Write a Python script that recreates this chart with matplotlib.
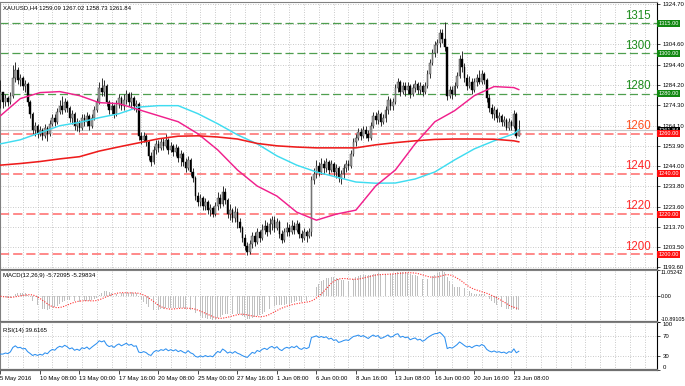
import numpy as np
import matplotlib
matplotlib.use('Agg')
import matplotlib.pyplot as plt
from matplotlib import transforms

plt.rcParams['font.family'] = ['Liberation Sans', 'DejaVu Sans']

# ---------------- data ----------------
symbol_title = "XAUUSD,H4 1259.09 1267.02 1258.73 1261.84"
macd_title = "MACD(12,26,9) -5.72095 -5.29834"
rsi_title = "RSI(14) 39.6165"
bid_price = 1261.84

first_open = 1277.0
close = [1281, 1276, 1278, 1276, 1279, 1288, 1292, 1287, 1288, 1284,
         1285, 1276, 1270, 1262, 1264, 1260, 1262, 1259, 1263, 1260,
         1265, 1268, 1266, 1271, 1274, 1272, 1276, 1273, 1268, 1270,
         1264, 1266, 1263, 1268, 1266, 1269, 1264, 1268, 1272, 1276,
         1283, 1281, 1284, 1276, 1272, 1274, 1270, 1275, 1278, 1274,
         1277, 1280, 1276, 1278, 1274, 1275, 1259, 1257, 1259, 1256,
         1249, 1246, 1252, 1255, 1253, 1256, 1254, 1257, 1252, 1254,
         1251, 1253, 1248, 1250, 1246, 1243, 1247, 1241, 1238, 1229,
         1226, 1228, 1224, 1226, 1222, 1223, 1220, 1224, 1228, 1225,
         1231, 1227, 1220, 1222, 1218, 1221, 1216, 1213, 1208, 1204,
         1201, 1205, 1209, 1206, 1211, 1208, 1212, 1214, 1211, 1215,
         1217, 1213, 1216, 1210, 1207, 1211, 1213, 1211, 1214, 1212,
         1215, 1210, 1208, 1211, 1209, 1211, 1237, 1240, 1244, 1241,
         1245, 1243, 1246, 1242, 1245, 1241, 1243, 1238, 1240, 1243,
         1245, 1244, 1250, 1256, 1258, 1261, 1259, 1262, 1260, 1258,
         1264, 1269, 1267, 1270, 1266, 1268, 1272, 1277, 1274, 1276,
         1283, 1286, 1281, 1284, 1282, 1284, 1280, 1283, 1285, 1282,
         1284, 1281, 1284, 1290, 1295, 1300, 1304, 1305, 1310, 1307,
         1303, 1279, 1282, 1280, 1284, 1289, 1297, 1293, 1288, 1284,
         1286, 1282, 1286, 1288, 1286, 1290, 1287, 1278, 1273, 1270,
         1272, 1268, 1269, 1266, 1267, 1263, 1266, 1264, 1270, 1259.09,
         1261.84]
high = [1287, 1281, 1280, 1279, 1281, 1294, 1295.5, 1293, 1290, 1289,
        1287, 1286, 1277, 1271, 1266, 1265, 1264, 1263, 1265, 1264,
        1267, 1270, 1270, 1273, 1277, 1279, 1278, 1277, 1274, 1272,
        1271, 1268, 1267, 1270, 1270, 1271, 1270, 1270, 1274, 1278,
        1286, 1288, 1287, 1285, 1277, 1276, 1275, 1277, 1280, 1279,
        1280, 1282, 1281, 1281, 1279, 1277, 1276, 1261, 1261, 1260,
        1257, 1251, 1254, 1257, 1257, 1258, 1258, 1260, 1258, 1256,
        1255, 1255, 1254, 1252, 1251, 1248, 1249, 1248, 1243, 1239,
        1231, 1230, 1229, 1228, 1227, 1225, 1224, 1226, 1231, 1230,
        1234, 1233, 1228, 1225, 1223, 1224, 1223, 1218, 1214, 1210,
        1206, 1207, 1211, 1211, 1213, 1212, 1215, 1217, 1216, 1218,
        1219, 1219, 1218, 1217, 1212, 1213, 1216, 1215, 1217, 1216,
        1217, 1216, 1212, 1213, 1212, 1213, 1239, 1243, 1247, 1246,
        1248, 1247, 1248, 1247, 1247, 1246, 1245, 1244, 1242, 1245,
        1247, 1247, 1252, 1258, 1260, 1263, 1263, 1264, 1264, 1262,
        1266, 1271, 1271, 1272, 1271, 1270, 1274, 1279, 1278, 1278,
        1285, 1288, 1287, 1286, 1286, 1286, 1285, 1285, 1287, 1286,
        1286, 1285, 1286, 1292, 1297, 1302, 1306, 1307, 1312, 1312,
        1315.5, 1303, 1284, 1284, 1286, 1291, 1299, 1301, 1295, 1290,
        1289, 1288, 1288, 1290, 1292, 1292, 1291, 1288, 1280, 1275,
        1274, 1273, 1271, 1270, 1269, 1268, 1268, 1267, 1272, 1271,
        1267.02]
low = [1273, 1273, 1274, 1274, 1275, 1278, 1286, 1285, 1284, 1282,
       1281, 1274, 1268, 1260, 1259, 1258, 1259, 1257, 1258, 1256.5,
       1259, 1264, 1264, 1265, 1270, 1270, 1271, 1271, 1266, 1265,
       1262, 1261.5, 1261, 1262, 1264, 1264, 1262, 1263, 1267, 1271,
       1275, 1279, 1279, 1274, 1270, 1270, 1268, 1269, 1273, 1272,
       1272, 1275, 1274, 1273, 1272, 1271, 1257, 1255, 1256, 1254,
       1247, 1244, 1245, 1250, 1251, 1252, 1252, 1253, 1250, 1251,
       1249, 1249, 1246, 1244, 1244, 1241, 1242, 1239, 1236, 1227,
       1224, 1224, 1222, 1222, 1220, 1219, 1218.5, 1219, 1222, 1223,
       1224, 1225, 1218, 1217, 1216, 1216, 1213, 1211, 1206, 1202,
       1199.6, 1200, 1203, 1204, 1205, 1206, 1207, 1210, 1209, 1210,
       1212, 1211, 1212, 1208, 1205.5, 1206, 1209, 1209, 1210, 1210,
       1211, 1208, 1206, 1207, 1206, 1208, 1209, 1235, 1238, 1239,
       1240, 1240, 1241, 1240, 1241, 1239, 1238, 1236, 1235, 1238,
       1241, 1242, 1243, 1249, 1254, 1257, 1257, 1258, 1258, 1256.5,
       1257, 1263, 1265, 1265, 1264, 1265, 1266, 1270, 1272, 1272,
       1275, 1281, 1279, 1280, 1279, 1280, 1278, 1279, 1281, 1280,
       1280, 1279, 1280, 1283, 1288, 1294, 1298, 1300, 1303, 1305,
       1301, 1277, 1278, 1277.5, 1279, 1283, 1288, 1291, 1286, 1282,
       1283, 1280, 1281, 1284, 1285, 1285, 1285, 1276, 1271, 1268,
       1267, 1266, 1266, 1264, 1264, 1262, 1262, 1262, 1263, 1258,
       1258.73]

# moving averages, read at every 8th bar
ma_idx = [0, 8, 16, 24, 32, 40, 48, 56, 64, 72, 80, 88, 96, 104, 112,
          120, 128, 136, 144, 152, 160, 168, 176, 184, 192, 200, 208, 210]
ma_cyan = [1255, 1257, 1260.5, 1264, 1265.7, 1268, 1270, 1273.3, 1274, 1274,
           1270, 1265, 1259.5, 1255, 1249, 1244.4, 1241, 1238.5, 1236, 1235.4,
           1235.5, 1237.5, 1241, 1247, 1252.5, 1256.5, 1260, 1262]
ma_magenta = [1269, 1277.5, 1280.5, 1281, 1279, 1275.5, 1275, 1272, 1269, 1266,
              1260, 1252, 1242, 1234, 1229, 1221, 1217, 1220, 1222, 1234,
              1242, 1255, 1266, 1271.5, 1279, 1283.5, 1283, 1282]
ma_red = [1244.4, 1245.2, 1246.2, 1247.5, 1248.6, 1251.4, 1253.5, 1255.5, 1257.5,
          1258.8, 1259, 1258.4, 1257.4, 1255.2, 1254, 1253.4, 1253, 1253, 1253,
          1254.5, 1255.6, 1256.5, 1257.2, 1257.4, 1257.4, 1257.3, 1256.5, 1256]

green_levels = [1315, 1300, 1280]
red_levels = [1260, 1240, 1220, 1200]

price_ticks = [1324.70, 1314.50, 1304.60, 1294.40, 1284.20, 1274.30, 1264.10,
               1253.90, 1244.00, 1233.80, 1223.60, 1213.70, 1203.50, 1193.60]
price_labels = ['1324.70', '', '1304.60', '1294.40', '1284.20', '1274.30', '1264.10',
                '1253.90', '1244.00', '1233.80', '1223.60', '1213.70', '1203.50', '1193.60']

date_idx = [0, 16, 32, 48, 64, 80, 96, 112, 128, 144, 160, 176, 192, 208]
date_labels = ['5 May 2016', '10 May 08:00', '13 May 00:00', '17 May 16:00',
               '20 May 08:00', '25 May 00:00', '27 May 16:00', '1 Jun 08:00',
               '6 Jun 00:00', '8 Jun 16:00', '13 Jun 08:00', '16 Jun 00:00',
               '20 Jun 16:00', '23 Jun 08:00']

macd_range = (-10.89105, 11.05242)

# ---------------- figure ----------------
W, H = 685, 386
fig = plt.figure(figsize=(W / 100, H / 100), dpi=100)
fig.patch.set_facecolor('white')


def axes_px(x0, y0, x1, y1):
    return fig.add_axes([x0 / W, 1 - y1 / H, (x1 - x0) / W, (y1 - y0) / H])


ax = axes_px(0, 2, 657, 270)
axm = axes_px(0, 270, 657, 322)
axr = axes_px(0, 322, 657, 370)

close = np.array(close, float)
high = np.array(high, float)
low = np.array(low, float)
n = len(close)
idx = np.arange(n)
opens = np.r_[first_open, close[:-1]]

xlim = (-0.2, 266.0)
grid_idx = np.arange(3, 266, 6)
fs = 4.3
grid_kw = dict(color='#b8b8b8', lw=0.6, linestyle=(0, (1, 2)))

for a in (ax, axm, axr):
    a.set_xlim(*xlim)
    a.set_facecolor('white')
    a.set_xticks(grid_idx, minor=True)
    a.grid(which='minor', axis='x', **grid_kw)
    a.tick_params(axis='x', which='minor', length=0)
    a.yaxis.tick_right()
    a.tick_params(axis='y', which='major', labelsize=fs, length=2.5, width=0.5,
                  pad=1.5, colors='black')
    for s in ('left', 'top'):
        a.spines[s].set_color('#808080')
        a.spines[s].set_linewidth(0.8)
    a.spines['right'].set_color('black')
    a.spines['right'].set_linewidth(0.8)
    a.spines['bottom'].set_color('#707070')
    a.spines['bottom'].set_linewidth(1.6)

# ---- main price panel ----
ax.set_ylim(1192.2, 1325.6)
ax.set_yticks(price_ticks, labels=price_labels)
ax.grid(which='major', axis='y', **grid_kw)
ax.set_xticks([])

ax.axhline(bid_price, color='#c8c8c8', lw=0.8, zorder=1)
for lv in green_levels:
    ax.axhline(lv, color='#4f9f4f', lw=0.9, dashes=(6.5, 3), zorder=2)
for lv in red_levels:
    ax.axhline(lv, color='#ff6a6a', lw=1.1, dashes=(6, 2.6), zorder=2)

up = close >= opens
ax.vlines(idx, low, high, color='#222222', lw=0.65, zorder=3)
ax.bar(idx[up], close[up] - opens[up], bottom=opens[up], width=0.7,
       color='#a0a0a0', edgecolor='#383838', lw=0.3, zorder=4)
ax.bar(idx[~up], opens[~up] - close[~up], bottom=close[~up], width=0.7,
       color='black', edgecolor='black', lw=0.3, zorder=4)

ax.plot(ma_idx, ma_cyan, color='#3fdcf0', lw=1.05, zorder=5)
ax.plot(ma_idx, ma_magenta, color='#f0208c', lw=1.05, zorder=5)
ax.plot(ma_idx, ma_red, color='#ee1c1c', lw=1.15, zorder=5)

blend = transforms.blended_transform_factory(fig.transFigure, ax.transData)
for lv in green_levels:
    ax.annotate(str(lv), xy=(651 / W, lv), xycoords=blend, xytext=(0, 1.2),
                textcoords='offset points', ha='right', va='bottom',
                fontsize=8.3, color='#1c8c1c', zorder=6)
for lv in red_levels:
    col = '#ff5020' if lv == 1260 else '#ff2a2a'
    ax.annotate(str(lv), xy=(651 / W, lv), xycoords=blend, xytext=(0, 1.2),
                textcoords='offset points', ha='right', va='bottom',
                fontsize=8.3, color=col, zorder=6)

tag_kw = dict(ha='left', va='center', fontsize=4.1, color='white', clip_on=False,
              zorder=10)
ax.text(658.5 / W, bid_price, f'{bid_price:.2f}', transform=blend,
        bbox=dict(boxstyle='square,pad=0.18', fc='black', ec='none'), **tag_kw)
for lv in green_levels:
    ax.text(658.5 / W, lv, f'{lv:.2f}', transform=blend,
            bbox=dict(boxstyle='square,pad=0.18', fc='#118811', ec='none'), **tag_kw)
for lv in red_levels:
    ax.text(658.5 / W, lv, f'{lv:.2f}', transform=blend,
            bbox=dict(boxstyle='square,pad=0.18', fc='#ff1010', ec='none'), **tag_kw)

fig.text(3 / W, 1 - 7.5 / H, symbol_title, fontsize=fs, va='center', ha='left')

# ---- MACD ----
def ema(x, span):
    a = 2.0 / (span + 1)
    out = np.empty_like(x)
    out[0] = x[0]
    for i in range(1, len(x)):
        out[i] = a * x[i] + (1 - a) * out[i - 1]
    return out

macd = ema(close, 12) - ema(close, 26)
signal = np.array([macd[max(0, i - 8):i + 1].mean() for i in range(n)])
lo, hi = macd_range
axm.set_ylim(lo, hi)
axm.bar(idx, np.clip(macd, lo, hi), width=0.35, color='#c0c0c0', lw=0, zorder=2)
axm.plot(idx, np.clip(signal, lo, hi), color='#ff3030', lw=0.8,
         linestyle=(0, (1, 1.3)), zorder=3)
axm.axhline(0, zorder=1, **grid_kw)
axm.set_yticks([lo, 0, hi], labels=[f'{lo:.5f}', '0.00', f'{hi:.5f}'])
axm.tick_params(axis='y', which='major', labelsize=3.9, pad=0.8, length=2)
tl = axm.get_yticklabels()
tl[0].set_va('bottom')
tl[2].set_va('top')
axm.set_xticks([])
axm.text(3 / 657, 0.9, macd_title, transform=axm.transAxes, fontsize=fs,
         va='center', ha='left')

# ---- RSI ----
d = np.diff(close)
g = np.clip(d, 0, None)
l = np.clip(-d, 0, None)
ag, al = g[:14].mean(), l[:14].mean()
rsi = np.empty(n)
for i in range(len(d)):
    ag = (ag * 13 + g[i]) / 14
    al = (al * 13 + l[i]) / 14
    rsi[i + 1] = 100 - 100 / (1 + ag / al)
rsi[0] = rsi[1]
axr.set_ylim(0, 100)
axr.plot(idx, rsi, color='#2e90f0', lw=0.75, zorder=3)
for lv in (70, 30):
    axr.axhline(lv, zorder=1, **grid_kw)
axr.set_yticks([0, 30, 70, 100], labels=['0', '30', '70', '100'])
tl = axr.get_yticklabels()
tl[0].set_va('bottom')
tl[3].set_va('top')
axr.text(3 / 657, 0.83, rsi_title, transform=axr.transAxes, fontsize=fs,
         va='center', ha='left')
axr.set_xticks(date_idx, labels=date_labels)
axr.tick_params(axis='x', which='major', labelsize=fs, length=3, width=0.5, pad=1.2)
for t in axr.get_xticklabels():
    t.set_ha('left')

fig.savefig('out.png', dpi=100, facecolor='white')
